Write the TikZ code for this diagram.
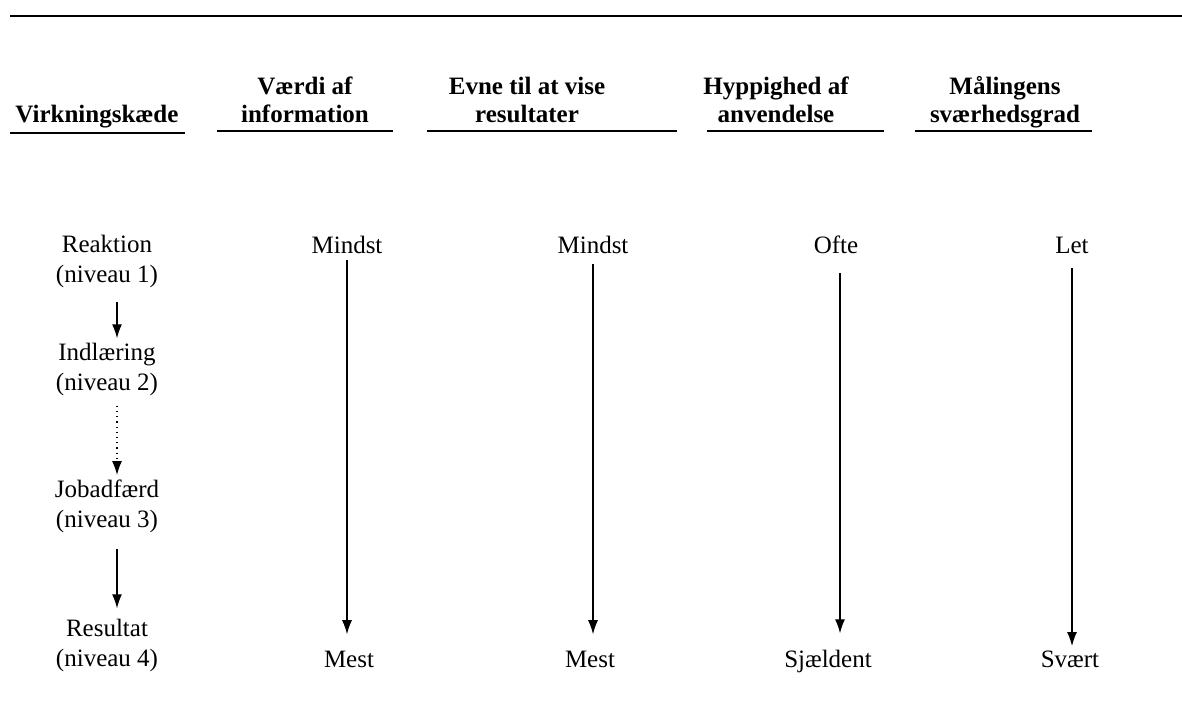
\documentclass[tikz,border=0pt]{standalone}
\usepackage{fontspec}
\setmainfont{Liberation Serif}
\usetikzlibrary{arrows.meta}

\tikzset{
  colhead/.style={font=\fontsize{12.5}{14}\selectfont\bfseries, align=center, inner sep=0pt, anchor=base},
  stage/.style={font=\fontsize{12.5}{15}\selectfont, align=center, inner sep=0pt, anchor=base},
  val/.style={font=\fontsize{12.5}{15}\selectfont, inner sep=0pt, anchor=base},
  trend/.style={-{Latex[length=7pt,width=5pt]}, line width=0.6pt},
  rule/.style={line width=0.7pt},
}

\begin{document}
\begin{tikzpicture}[x=0.5pt,y=-0.5pt]
  \useasboundingbox (0,0) rectangle (1182,707);

  % top rule
  \draw[rule] (10,16) -- (1182,16);

  % headings
  \node[colhead] (hchain) at (97,122) {Virkningskæde};
  \node[colhead] (hvalue) at (305,122) {Værdi af\\information};
  \node[colhead] (hshow)  at (527,122) {Evne til at vise\\resultater};
  \node[colhead] (hfreq)  at (776,122) {Hyppighed af\\anvendelse};
  \node[colhead] (hdiff)  at (1005,122) {Målingens\\sværhedsgrad};
  \draw[rule] (10,133) -- (185,133);
  \draw[rule] (217,131) -- (393,131);
  \draw[rule] (427,131) -- (677,131);
  \draw[rule] (707,131) -- (884,131);
  \draw[rule] (915,131) -- (1092,131);

  % chain of levels
  \node[stage] (reak) at (107,282) {Reaktion\\(niveau 1)};
  \node[stage] (indl) at (107,390) {Indlæring\\(niveau 2)};
  \node[stage] (job)  at (107,527) {Jobadfærd\\(niveau 3)};
  \node[stage] (res)  at (107,666) {Resultat\\(niveau 4)};
  \draw[trend, shorten <=7pt, shorten >=2pt] ([xshift=5pt]reak.south) -- ([xshift=5pt]indl.north);
  \draw[trend, dotted, shorten <=5pt, shorten >=2pt] ([xshift=5pt]indl.south) -- ([xshift=5pt]job.north);
  \draw[trend, shorten <=8pt, shorten >=5pt] ([xshift=5pt]job.south) -- ([xshift=5pt]res.north);

  % columns
  \node[val] (vtop) at (347,253) {Mindst};
  \node[val] (vbot) at (349,667) {Mest};
  \node[val] (stop) at (593,253) {Mindst};
  \node[val] (sbot) at (590,667) {Mest};
  \node[val] (ftop) at (836,253) {Ofte};
  \node[val] (fbot) at (828,667) {Sjældent};
  \node[val] (dtop) at (1072,253) {Let};
  \node[val] (dbot) at (1070,667) {Svært};
  \draw[trend, shorten <=3pt, shorten >=8pt] (vtop.south) -- (vtop.south |- vbot.north);
  \draw[trend, shorten <=5pt, shorten >=8pt] (stop.south) -- (stop.south |- sbot.north);
  \draw[trend, shorten <=7pt, shorten >=8pt] (840,253) ++(0,6) coordinate (ftopx) (ftopx) -- (ftopx |- fbot.north);
  \draw[trend, shorten <=7pt, shorten >=2pt] (dtop.south) -- (dtop.south |- dbot.north);
\end{tikzpicture}
\end{document}
